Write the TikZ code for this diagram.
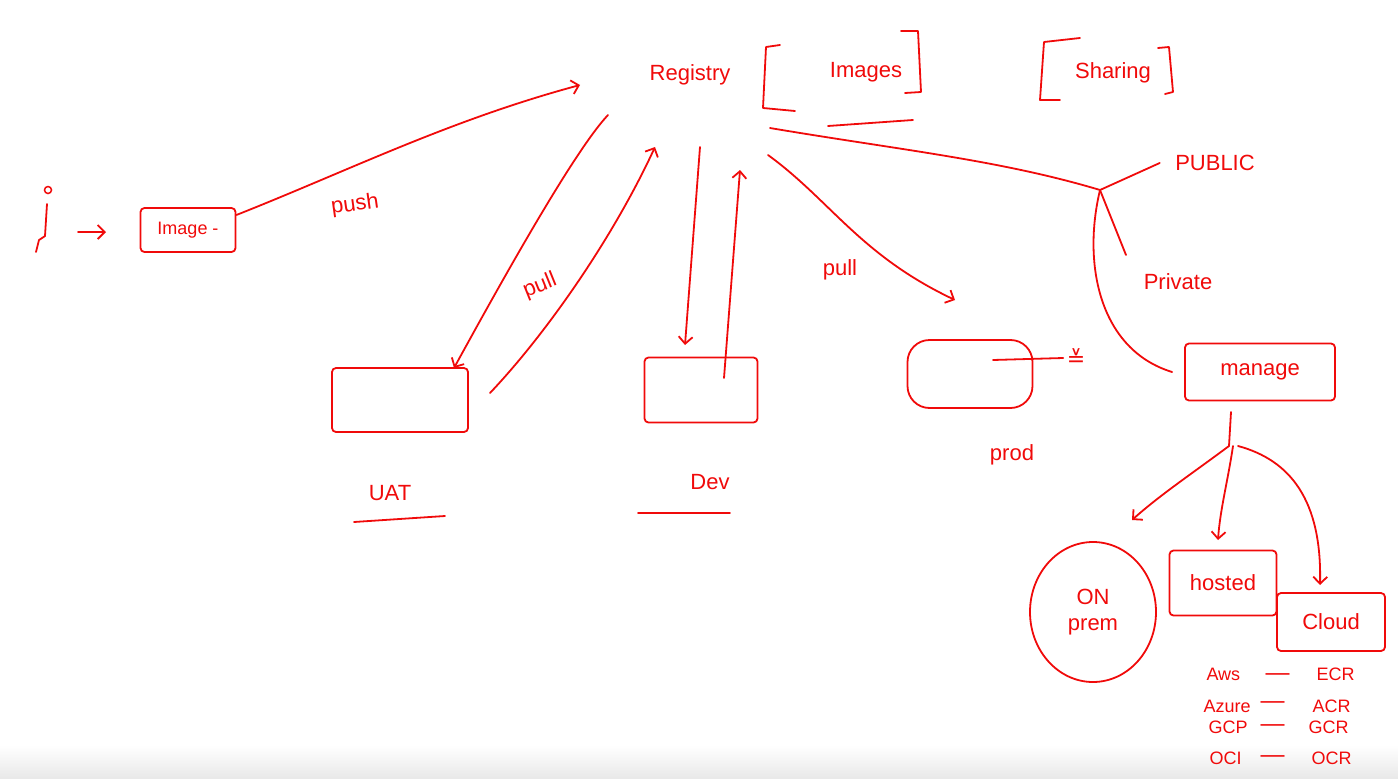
\documentclass[tikz,border=0pt]{standalone}
\usepackage{fontspec}
\setmainfont{Liberation Sans}
\newfontfamily\dejavu{DejaVu Sans}
\usetikzlibrary{arrows.meta,shapes.geometric}
\definecolor{ink}{RGB}{240,10,10}
\begin{document}
\begin{tikzpicture}[x=1pt,y=-1pt,
  every node/.style={text=ink, font=\fontsize{22}{26}\selectfont},
  small/.style={font=\fontsize{18}{21}\selectfont},
  box/.style={draw=ink, line width=1.8pt, rounded corners=4pt, inner sep=0pt},
  wire/.style={draw=ink, line width=1.8pt, line cap=round, line join=round},
  arr/.style={wire, -{Straight Barb[length=7pt,width=14pt,line width=1.8pt]}}]
\useasboundingbox (0,0) rectangle (1398,779);
\shade[top color=white, bottom color=black!9, draw=none] (0,745) rectangle (1398,779);

% ---- user and image ----
\node[circle, draw=ink, line width=1.5pt, minimum size=7pt, inner sep=0pt] (head) at (48,190) {};
\coordinate (bodyTop) at (47,204);
\coordinate (bodyEnd) at (36,252);
\draw[wire] (bodyTop) -- (45,236) -- (39,240) -- (bodyEnd);
\node[box, small, minimum width=95pt, minimum height=44pt] (img) at (188,230) {Image -};
\coordinate (uArrS) at (78,232);
\coordinate (uArrE) at (106,232);
\draw[arr] (uArrS) -- (uArrE);

% ---- registry ----
\node (reg) at (690,75) {Registry};
\node (imgs) at (866,72) {Images};
\draw[wire] (780,45) -- (766,47) -- (763,108) -- (795,111);
\draw[wire] (901,31) -- (918,31) -- (921,92) -- (905,93);
\draw[wire] (828,126) -- (913,120);
\node (shar) at (1113,73) {Sharing};
\draw[wire] (1080,38) -- (1044,42) -- (1040,100) -- (1060,100);
\draw[wire] (1158,48) -- (1169,47) -- (1173,92) -- (1165,94);

% push
\coordinate (pushEnd) at (580,85);
\draw[arr] ([yshift=15pt]img.east) .. controls (350,170) and (450,120) .. (pushEnd);
\node[rotate=8] (pushl) at (355,205) {push};

% ---- UAT ----
\node[box, minimum width=136pt, minimum height=64pt] (uat) at (400,400) {};
\node (uatl) at (390,493) {UAT};
\draw[wire] (354,522) -- (445,516);
\coordinate (uatS) at (608,115);
\coordinate (uatE) at (454,368);
\draw[arr] (uatS) .. controls (575,150) and (505,275) .. (uatE);
\coordinate (uatUpS) at (490,393);
\coordinate (uatUpE) at (655,147);
\draw[arr] (uatUpS) .. controls (545,335) and (612,240) .. (uatUpE);
\node[rotate=22, inner sep=1pt] (pull1) at (540,286) {pull};

% ---- Dev ----
\node[box, minimum width=113pt, minimum height=65pt] (dev) at (701,390) {};
\node (devl) at (710,482) {Dev};
\draw[wire] (638,513) -- (730,513);
\coordinate (devS) at (700,147);
\coordinate (devE) at (685,345);
\draw[arr] (devS) -- (devE);
\coordinate (devUpS) at (724,378);
\coordinate (devUpE) at (740,170);
\draw[arr] (devUpS) -- (devUpE);

% ---- prod ----
\coordinate (prodS) at (768,155);
\coordinate (prodE) at (955,300);
\draw[arr] (prodS) .. controls (830,200) and (860,255) .. (prodE);
\node (pull2) at (840,270) {pull};
\node[draw=ink, line width=1.8pt, rounded corners=22pt, minimum width=125pt, minimum height=68pt] (prodbox) at (970,374) {};
\coordinate (prodLS) at (993,360);
\node[font=\dejavu\fontsize{22}{24}\selectfont] (eqmark) at (1076,358) {≚};
\draw[wire] (prodLS) -- (eqmark.west);
\node (prodl) at (1012,455) {prod};

% ---- public / private ----
\coordinate (regR) at (770,128);
\coordinate (split) at (1100,190);
\draw[wire] (regR) .. controls (900,150) and (1000,160) .. (split);
\node (pub) at (1215,163) {PUBLIC};
\node (priv) at (1178,282) {Private};
\draw[wire] (split) -- ([xshift=-12pt]pub.west);
\coordinate (privS) at (1126,255);
\draw[wire] (split) -- (privS);

% ---- manage ----
\node[box, minimum width=150pt, minimum height=57pt] (man) at (1260,372) {manage};
\draw[wire] (split) .. controls (1082,265) and (1100,350) .. ([xshift=-12pt]man.west);
\coordinate (mTop) at (1231,412);
\coordinate (mb) at (1229,446);
\draw[wire] (mTop) -- (mb);

% ---- children ----
\node[ellipse, draw=ink, line width=1.8pt, minimum width=126pt, minimum height=140pt, align=center] (onp) at (1093,612) {ON\\prem};
\node[box, minimum width=107pt, minimum height=65pt] (host) at (1223,583) {hosted};
\node[box, fill=white, minimum width=108pt, minimum height=58pt] (cloud) at (1331,622) {Cloud};
\coordinate (onpE) at (1132,520);
\coordinate (hostE) at (1218,540);
\coordinate (cloudE) at (1320,585);
\draw[arr] (mb) .. controls (1190,475) and (1160,495) .. (onpE);
\draw[arr] ([xshift=4pt]mb) .. controls (1228,480) and (1220,510) .. (hostE);
\draw[arr] ([xshift=9pt]mb) .. controls (1290,460) and (1322,500) .. (cloudE);

% ---- cloud registries ----
\begin{scope}[every node/.append style={small, anchor=base west}]
\node (aws) at (1203,680) {Aws};
\node[font=\fontsize{24}{26}\selectfont] (awsd) at (1262,680) {—};
\node (ecr) at (1313,680) {ECR};
\node (azure) at (1200,712) {Azure};
\node[font=\fontsize{24}{26}\selectfont] (azured) at (1257,708) {—};
\node (acr) at (1309,712) {ACR};
\node (gcp) at (1205,733) {GCP};
\node[font=\fontsize{24}{26}\selectfont] (gcpd) at (1257,731) {—};
\node (gcr) at (1305,733) {GCR};
\node (oci) at (1206,764) {OCI};
\node[font=\fontsize{24}{26}\selectfont] (ocid) at (1257,762) {—};
\node (ocr) at (1308,764) {OCR};
\end{scope}
\end{tikzpicture}
\end{document}
